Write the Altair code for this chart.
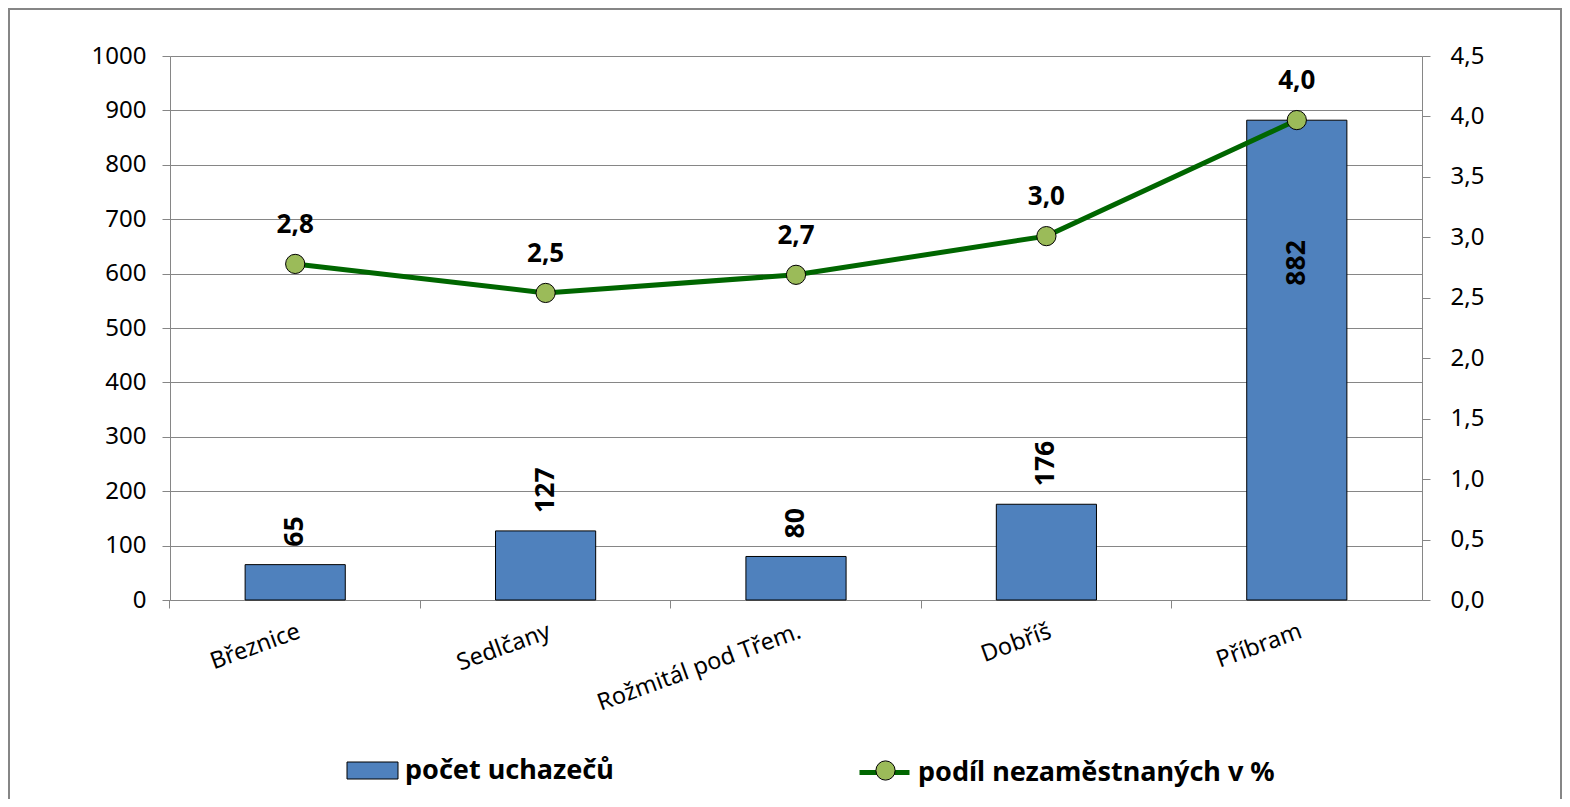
import altair as alt
import pandas as pd

categories = ["Březnice", "Sedlčany", "Rožmitál pod Třem.", "Dobříš", "Příbram"]
pocet = [65, 127, 80, 176, 882]
podil = [2.78, 2.54, 2.69, 3.01, 3.97]
left_ticks = [0, 100, 200, 300, 400, 500, 600, 700, 800, 900, 1000]
right_ticks = [0.0, 0.5, 1.0, 1.5, 2.0, 2.5, 3.0, 3.5, 4.0, 4.5]
series_bar = "počet uchazečů"
series_line = "podíl nezaměstnaných v %"

df = pd.DataFrame({
    "kat": categories,
    "pocet": pocet,
    "podil": podil,
    "s_bar": [series_bar] * len(categories),
    "s_line": [series_line] * len(categories),
    "s_pt": [series_line] * len(categories),
})

FONT = "Noto Sans"
GRAY = "#868686"
BLUE = "#4F81BD"
GREEN = "#006600"
LGREEN = "#9BBB59"

x_enc = alt.X(
    "kat:N", sort=categories,
    scale=alt.Scale(paddingInner=0.6, paddingOuter=0.3),
    axis=alt.Axis(title=None, labelAngle=340, labelAlign="right", labelBaseline="top",
                  labelFontSize=23.5, labelFont=FONT, labelColor="black", labelPadding=11,
                  labelLimit=400, bandPosition=-0.75, tickSize=8, tickColor=GRAY,
                  domainColor=GRAY, grid=False),
)

y_left = alt.Y(
    "pocet:Q", scale=alt.Scale(domain=[0, 1000], nice=False),
    axis=alt.Axis(title=None, values=left_ticks, format="d", grid=True, gridColor=GRAY,
                  gridOpacity=1, domainColor=GRAY, tickColor=GRAY, tickSize=8,
                  labelFontSize=24, labelFont=FONT, labelColor="black", labelPadding=16),
)

y_right = alt.Y(
    "podil:Q", scale=alt.Scale(domain=[0, 4.5], nice=False),
    axis=alt.Axis(title=None, orient="right", values=right_ticks, grid=False,
                  domainColor=GRAY, tickColor=GRAY, tickSize=8, labelFontSize=24,
                  labelFont=FONT, labelColor="black", labelPadding=20,
                  labelExpr="replace(format(datum.value, '.1f'), '.', ',')"),
)

bars = alt.Chart(df).mark_bar(stroke="black", strokeWidth=1).encode(
    x=x_enc, y=y_left,
    fill=alt.Fill("s_bar:N", scale=alt.Scale(domain=[series_bar], range=[BLUE]),
                  legend=alt.Legend(title=None, orient="none", legendX=185, legendY=697,
                                    symbolType="M-1.5,-0.5H1.5V0.5H-1.5Z", symbolSize=1156,
                                    symbolStrokeColor="black", symbolStrokeWidth=1,
                                    labelFontSize=27, labelFontWeight="bold", labelFont=FONT,
                                    labelColor="black", labelOffset=15, labelLimit=500,
                                    padding=0)),
)

lbl_out = alt.Chart(df).transform_filter("datum.pocet < 800").mark_text(
    angle=270, align="left", baseline="middle", dx=18, font=FONT, fontSize=26.5,
    fontWeight="bold", color="black",
).encode(x=x_enc, y=y_left, text="pocet:Q")

lbl_in = alt.Chart(df).transform_filter("datum.pocet >= 800").mark_text(
    angle=270, align="right", baseline="middle", dx=-120, font=FONT, fontSize=26.5,
    fontWeight="bold", color="black",
).encode(x=x_enc, y=y_left, text="pocet:Q")

line = alt.Chart(df).mark_line(strokeWidth=5).encode(
    x=x_enc, y=y_right,
    stroke=alt.Stroke("s_line:N", scale=alt.Scale(domain=[series_line], range=[GREEN]),
                      legend=alt.Legend(title=None, orient="none", legendX=687, legendY=689,
                                        symbolType="stroke", symbolSize=2500,
                                        symbolStrokeWidth=5, labelFontSize=27,
                                        labelFontWeight="bold", labelFont=FONT,
                                        labelColor="black", labelOffset=6, labelLimit=500,
                                        padding=0, zindex=1)),
)

points = alt.Chart(df).mark_circle(size=370, stroke="black", strokeWidth=1, opacity=1).encode(
    x=x_enc, y=y_right,
    fill=alt.Fill("s_pt:N", scale=alt.Scale(domain=[series_line], range=[LGREEN]),
                  legend=alt.Legend(title=None, orient="none", legendX=705, legendY=704,
                                    symbolType="circle", symbolSize=370,
                                    symbolStrokeColor="black", symbolStrokeWidth=1,
                                    labelExpr="''", labelFontSize=1, padding=0, zindex=2)),
)

line_lbl = alt.Chart(df).transform_calculate(
    lab="replace(format(datum.podil, '.1f'), '.', ',')"
).mark_text(
    baseline="middle", dy=-39, font=FONT, fontSize=26, fontWeight="bold", color="black",
).encode(x=x_enc, y=y_right, text="lab:N")

border = alt.Chart(pd.DataFrame({"b": [0]})).mark_rect(
    fill="transparent", stroke=GRAY, strokeWidth=2,
).encode(x=alt.value(-161), x2=alt.value(1391), y=alt.value(-47), y2=alt.value(800))

left = alt.layer(bars, lbl_out, lbl_in)
right = alt.layer(line, points, line_lbl)

chart = alt.layer(border, left, right).resolve_scale(
    y="independent", fill="independent"
).properties(
    width=1252, height=544,
    padding={"left": 162, "top": 48, "right": 140, "bottom": 199},
    autosize=alt.AutoSizeParams(type="none"),
    background="white",
).configure_view(stroke=None)

chart.save("out.html", embed_options={"renderer": "svg", "actions": False})
